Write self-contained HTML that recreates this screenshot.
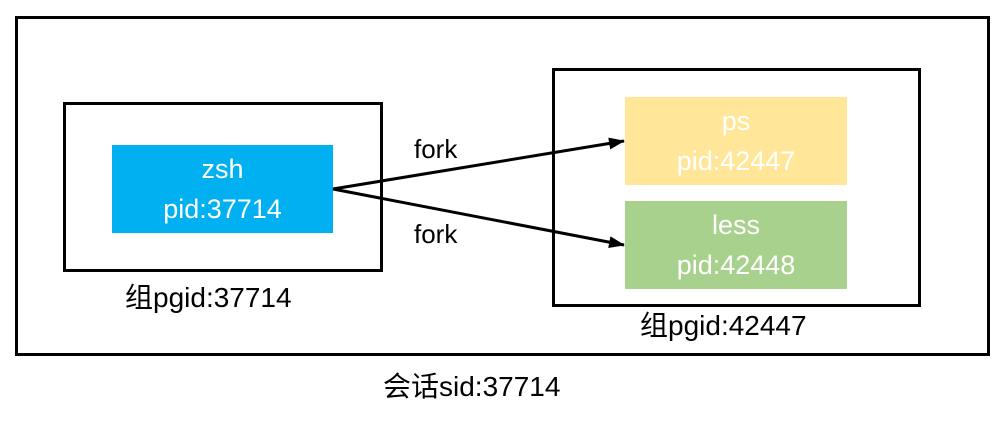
<!DOCTYPE html>
<html><head><meta charset="utf-8"><style>
body{margin:0;width:1004px;height:426px;background:#fff;position:relative;overflow:hidden;font-family:"Liberation Sans","Noto Sans CJK SC",sans-serif}
.b{position:absolute;box-sizing:border-box;border:3px solid #000}
.f{position:absolute;color:#fff;font-size:27px;text-align:center;line-height:40px;display:flex;flex-direction:column;justify-content:center}
.t{position:absolute;font-size:28px;line-height:32px;color:#000;white-space:nowrap}
</style></head><body>
<div class="b" style="left:15px;top:16px;width:975px;height:340px"></div>
<div class="b" style="left:63px;top:102px;width:320px;height:170px"></div>
<div class="b" style="left:552px;top:68px;width:369px;height:239px"></div>
<div class="f" style="left:112px;top:145px;width:221px;height:88px;background:#00b0f0">zsh<br>pid:37714</div>
<div class="f" style="left:625px;top:97px;width:222px;height:88px;background:#ffe699">ps<br>pid:42447</div>
<div class="f" style="left:625px;top:201px;width:222px;height:88px;background:#a9d18e">less<br>pid:42448</div>
<svg style="position:absolute;left:0;top:0" width="1004" height="426">
<defs><marker id="a" markerWidth="16" markerHeight="12" refX="15" refY="6" orient="auto" markerUnits="userSpaceOnUse"><path d="M0,0 L16,6 L0,12 Z" fill="#000"/></marker></defs>
<line x1="333" y1="189" x2="624" y2="141" stroke="#000" stroke-width="3" marker-end="url(#a)"/>
<line x1="333" y1="189" x2="624" y2="245" stroke="#000" stroke-width="3" marker-end="url(#a)"/>
</svg>
<div class="t" style="left:414px;top:133px;font-size:26px">fork</div>
<div class="t" style="left:414px;top:218px;font-size:26px">fork</div>
<div class="t" style="left:125px;top:282px">组pgid:37714</div>
<div class="t" style="left:640px;top:310px">组pgid:42447</div>
<div class="t" style="left:383px;top:371px">会话sid:37714</div>
</body></html>
